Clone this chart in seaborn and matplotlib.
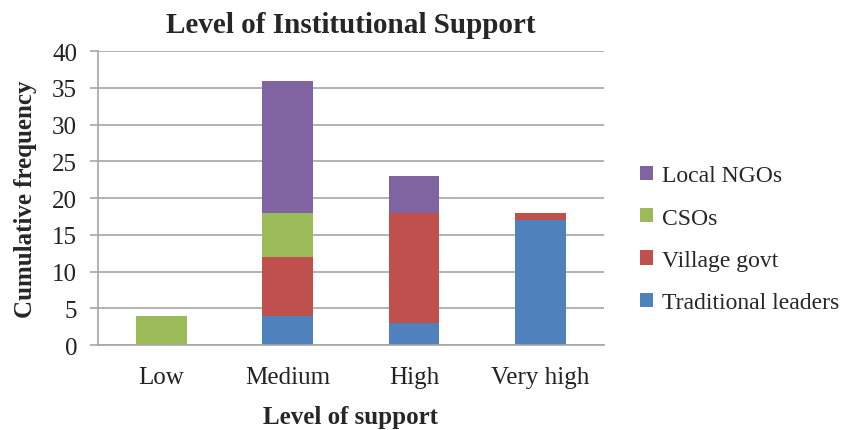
import numpy as np
import pandas as pd
import matplotlib
matplotlib.use("Agg")
import matplotlib.pyplot as plt
import seaborn as sns

# Chart data
levels = ["Low", "Medium", "High", "Very high"]
traditional_leaders = [0, 4, 3, 17]
village_govt = [0, 8, 15, 1]
csos = [4, 6, 0, 0]
local_ngos = [0, 18, 5, 0]

series_names = ["Traditional leaders", "Village govt", "CSOs", "Local NGOs"]
series_values = [traditional_leaders, village_govt, csos, local_ngos]
series_colors = ["#4F81BD", "#C0504D", "#9BBB59", "#8064A2"]

sns.set_theme(style="white")
plt.rcParams["font.family"] = ["Liberation Serif", "DejaVu Serif"]

# cumulative tops for stacking; skip empty segments
rows = []
running = np.zeros(len(levels))
for name, vals in zip(series_names, series_values):
    vals = np.array(vals, dtype=float)
    running = running + vals
    for lvl, v, top in zip(levels, vals, running):
        rows.append({"level": lvl, "series": name,
                     "top": top if v > 0 else np.nan})
df = pd.DataFrame(rows)

fig = plt.figure(figsize=(8.46, 4.31), dpi=100)
ax = fig.add_axes([0.1158, 0.197, 0.598, 0.682])

# draw from the top of the stack down so lower segments cover upper ones
for name, color in reversed(list(zip(series_names, series_colors))):
    sub = df[df["series"] == name].dropna()
    sns.barplot(data=sub, x="level", y="top", order=levels, color=color,
                width=0.40, linewidth=0, saturation=1, ax=ax, label=name)

ax.set_ylim(0, 40)
ax.set_yticks(np.arange(0, 41, 5))
ax.set_xlim(-0.5, 3.5)
ax.yaxis.grid(True, color="#A6A6A6", linewidth=1.2)
ax.set_axisbelow(True)
for side in ["top", "right"]:
    ax.spines[side].set_visible(False)
for side in ["left", "bottom"]:
    ax.spines[side].set_color("#A6A6A6")
    ax.spines[side].set_linewidth(1.2)

# category boundary ticks on x, outward ticks on y
ax.set_xticks(np.arange(4))
ax.set_xticks(np.arange(-0.5, 4, 1), minor=True)
ax.tick_params(axis="x", which="major", length=0, labelsize=18, pad=15,
               colors="#222222")
ax.tick_params(axis="x", which="minor", length=6, width=1.2,
               color="#A6A6A6", direction="out")
ax.tick_params(axis="y", length=6, width=1.2, color="#A6A6A6",
               direction="out", left=True, labelsize=18, labelcolor="#222222",
               pad=9)

ax.set_title("Level of Institutional Support", fontsize=21,
             fontweight="bold", pad=14)
ax.set_xlabel("Level of support", fontsize=18, fontweight="bold", labelpad=12)
ax.set_ylabel("Cumulative frequency", fontsize=18, fontweight="bold",
              labelpad=11)

handles, labels = ax.get_legend_handles_labels()
ax.legend(handles, labels, loc="center left", bbox_to_anchor=(1.03, 0.36),
          frameon=False, fontsize=17, handlelength=0.55, handleheight=0.55,
          handletextpad=0.35, labelspacing=0.9)

fig.savefig("out.png", dpi=100)
